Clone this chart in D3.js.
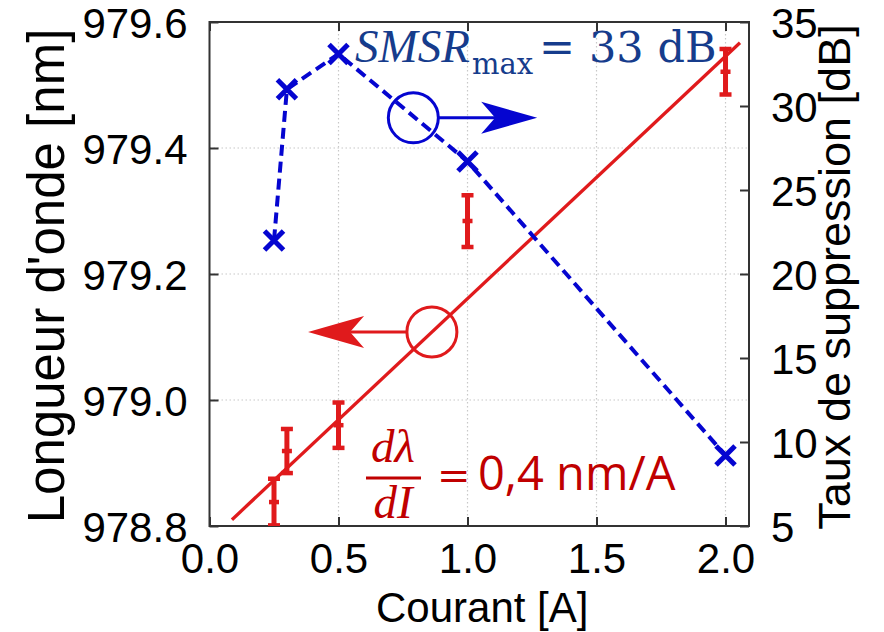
<!DOCTYPE html>
<html><head><meta charset="utf-8">
<script src="https://cdn.jsdelivr.net/npm/d3@7"></script>
<style>body{margin:0;background:#fff}svg{display:block}</style>
</head><body>
<svg id="c" width="884" height="632"></svg>
<script>
// ---- data ----
const currentTicks = [0, 0.5, 1.0, 1.5, 2.0];
const wavelengthTicks = [978.8, 979.0, 979.2, 979.4, 979.6];
const smsrTicks = [5, 10, 15, 20, 25, 30, 35];
const smsrCurrent = [0.25, 0.3, 0.5, 1.0, 2.0];
const smsrValues = [22.0, 31.0, 33.1, 26.7, 9.2];
const wlCurrent = [0.25, 0.3, 0.5, 1.0, 2.0];
const wlValues = [978.838, 978.919, 978.960, 979.284, 979.521];
const wlError = [0.037, 0.035, 0.036, 0.041, 0.036];
const fitCurrent = [0.087, 2.056];
const fitValues = [978.81, 979.567];
const xLabel = "Courant [A]";
const yLeftLabel = "Longueur d'onde [nm]";
const yRightLabel = "Taux de suppression [dB]";

const svg = d3.select("#c");
const L = 209.5, R = 749, T = 22, B = 526;
const x = d3.scaleLinear().domain([0, 2.091]).range([L, R]);
const yL = d3.scaleLinear().domain([978.8, 979.6]).range([B, T]);
const yR = d3.scaleLinear().domain([5, 35]).range([B, T]);

const blue = "#0505d0", red = "#e01a1c";
const tickFont = "'Liberation Sans', Arial, sans-serif";

// grid
const g = svg.append("g");
g.selectAll(".gx").data(currentTicks.slice(1)).join("line")
  .attr("x1", d => x(d)).attr("x2", d => x(d)).attr("y1", T).attr("y2", B)
  .attr("stroke", "#c8c8c8").attr("stroke-width", 1.2).attr("stroke-dasharray", "1.5,2.5");
g.selectAll(".gy").data(wavelengthTicks.slice(1, -1)).join("line")
  .attr("x1", L).attr("x2", R).attr("y1", d => yL(d)).attr("y2", d => yL(d))
  .attr("stroke", "#c8c8c8").attr("stroke-width", 1.2).attr("stroke-dasharray", "1.5,2.5");

// axes (inward ticks)
const axB = svg.append("g").attr("transform", `translate(0,${B})`)
  .call(d3.axisBottom(x).tickValues(currentTicks).tickFormat(d3.format(".1f")).tickSizeInner(-9).tickSizeOuter(0).tickPadding(28));
const axT = svg.append("g").attr("transform", `translate(0,${T})`)
  .call(d3.axisTop(x).tickValues(currentTicks).tickFormat("").tickSizeInner(-9).tickSizeOuter(0));
const axL = svg.append("g").attr("transform", `translate(${L},0)`)
  .call(d3.axisLeft(yL).tickValues(wavelengthTicks).tickFormat(d3.format(".1f")).tickSizeInner(-9).tickSizeOuter(0).tickPadding(22));
const axR = svg.append("g").attr("transform", `translate(${R},0)`)
  .call(d3.axisRight(yR).tickValues(smsrTicks).tickFormat(d3.format("d")).tickSizeInner(-9).tickSizeOuter(0).tickPadding(22));
[axB, axT, axL, axR].forEach(a => {
  a.select(".domain").remove();
  a.selectAll(".tick line").attr("stroke", "#333").attr("stroke-width", 2);
  a.selectAll("text").attr("font-family", tickFont).attr("font-size", 42).attr("fill", "#000");
});
axB.selectAll("text").attr("dy", "0.45em");
axL.selectAll("text").attr("dy", "0.36em");
axR.selectAll("text").attr("dy", "0.36em");

// frame
svg.append("rect").attr("x", L).attr("y", T).attr("width", R - L).attr("height", B - T)
  .attr("fill", "none").attr("stroke", "#333").attr("stroke-width", 2);

// axis titles
svg.append("text").attr("x", (L + R) / 2 + 3).attr("y", 622).attr("text-anchor", "middle")
  .attr("font-family", tickFont).attr("font-size", 42).text(xLabel);
svg.append("text").attr("transform", `translate(64,${(T + B) / 2 + 2}) rotate(-90)`).attr("text-anchor", "middle")
  .attr("font-family", tickFont).attr("font-size", 51).text(yLeftLabel);
svg.append("text").attr("transform", `translate(850,${(T + B) / 2 + 3}) rotate(-90)`).attr("text-anchor", "middle")
  .attr("font-family", tickFont).attr("font-size", 45).text(yRightLabel);

// clip for data
svg.append("clipPath").attr("id", "clip").append("rect").attr("x", L).attr("y", T - 10).attr("width", R - L).attr("height", B - T + 10);
const plot = svg.append("g").attr("clip-path", "url(#clip)");

// red fit line
const fit = fitCurrent.map((c, i) => [c, fitValues[i]]);
plot.append("path").datum(fit)
  .attr("d", d3.line().x(d => x(d[0])).y(d => yL(d[1])))
  .attr("stroke", red).attr("stroke-width", 3.3).attr("fill", "none");

// red error bars
const wl = wlCurrent.map((c, i) => ({c, v: wlValues[i], e: wlError[i]}));
const eb = plot.selectAll(".eb").data(wl).join("g");
eb.append("line").attr("x1", d => x(d.c)).attr("x2", d => x(d.c))
  .attr("y1", d => yL(d.v - d.e)).attr("y2", d => yL(d.v + d.e))
  .attr("stroke", red).attr("stroke-width", 5);
eb.append("line").attr("x1", d => x(d.c) - 6).attr("x2", d => x(d.c) + 6)
  .attr("y1", d => yL(d.v + d.e)).attr("y2", d => yL(d.v + d.e))
  .attr("stroke", red).attr("stroke-width", 4.5);
eb.append("line").attr("x1", d => x(d.c) - 6).attr("x2", d => x(d.c) + 6)
  .attr("y1", d => yL(d.v - d.e)).attr("y2", d => yL(d.v - d.e))
  .attr("stroke", red).attr("stroke-width", 4.5);
eb.append("line").attr("x1", d => x(d.c) - 5).attr("x2", d => x(d.c) + 5)
  .attr("y1", d => yL(d.v)).attr("y2", d => yL(d.v))
  .attr("stroke", red).attr("stroke-width", 4.5);

// blue SMSR dashed line + x markers
const sm = smsrCurrent.map((c, i) => [c, smsrValues[i]]);
svg.append("path").datum(sm)
  .attr("d", d3.line().x(d => x(d[0])).y(d => yR(d[1])))
  .attr("stroke", blue).attr("stroke-width", 4).attr("stroke-dasharray", "11,6").attr("fill", "none");
const s = 9.5;
svg.selectAll(".mk").data(sm).join("path")
  .attr("d", d => { const px = x(d[0]), py = yR(d[1]);
    return `M${px - s},${py - s}L${px + s},${py + s}M${px - s},${py + s}L${px + s},${py - s}`; })
  .attr("stroke", blue).attr("stroke-width", 5).attr("fill", "none");

// annotation: blue circle + arrow to the right axis
const bc = {x: 0.79, y: 29.3, tip: 1.27};
const bcx = x(bc.x), bcy = yR(bc.y);
svg.append("circle").attr("cx", bcx).attr("cy", bcy).attr("r", 25)
  .attr("fill", "none").attr("stroke", blue).attr("stroke-width", 3);
const btx = x(bc.tip);
svg.append("line").attr("x1", bcx + 25).attr("x2", btx - 42).attr("y1", bcy).attr("y2", bcy)
  .attr("stroke", blue).attr("stroke-width", 3);
svg.append("path").attr("d", `M${btx},${bcy}L${btx - 56},${bcy - 16}L${btx - 42},${bcy}L${btx - 56},${bcy + 16}Z`).attr("fill", blue);

// annotation: red circle + arrow to the left axis
const rc = {x: 0.862, y: 979.108, tip: 0.382};
const rcx = x(rc.x), rcy = yL(rc.y);
svg.append("circle").attr("cx", rcx).attr("cy", rcy).attr("r", 25)
  .attr("fill", "none").attr("stroke", red).attr("stroke-width", 3);
const rtx = x(rc.tip);
svg.append("line").attr("x1", rcx - 25).attr("x2", rtx + 42).attr("y1", rcy).attr("y2", rcy)
  .attr("stroke", red).attr("stroke-width", 3);
svg.append("path").attr("d", `M${rtx},${rcy}L${rtx + 56},${rcy - 16}L${rtx + 42},${rcy}L${rtx + 56},${rcy + 16}Z`).attr("fill", red);

// text annotations
const serif = "'Liberation Serif', 'DejaVu Serif', serif";
const serif2 = "'DejaVu Serif', 'Liberation Serif', serif";
const navy = "#163c8c";
svg.append("text").attr("x", 355).attr("y", 62).attr("font-family", serif).attr("fill", navy)
  .attr("font-size", 47).attr("font-style", "italic").text("SMSR");
svg.append("text").attr("x", 472).attr("y", 74).attr("font-family", serif2).attr("fill", navy)
  .attr("font-size", 29).text("max");
svg.append("text").attr("x", 539).attr("y", 62).attr("font-family", serif2).attr("fill", navy)
  .attr("font-size", 43).text("=");
svg.append("text").attr("x", 589).attr("y", 62).attr("font-family", serif2).attr("fill", navy)
  .attr("font-size", 43).text("33 dB");

const dark = "#c00000";
svg.append("text").attr("x", 393).attr("y", 462).attr("text-anchor", "middle").attr("font-family", serif)
  .attr("font-style", "italic").attr("font-size", 47).attr("fill", dark).text("dλ");
svg.append("line").attr("x1", 366).attr("x2", 421).attr("y1", 478).attr("y2", 478).attr("stroke", dark).attr("stroke-width", 3);
svg.append("text").attr("x", 393).attr("y", 518).attr("text-anchor", "middle").attr("font-family", serif)
  .attr("font-style", "italic").attr("font-size", 47).attr("fill", dark).text("dI");
svg.append("text").attr("x", 437).attr("y", 489).attr("font-family", serif2).attr("font-size", 40).attr("fill", dark).text("=");
svg.append("text").attr("x", 478).attr("y", 490).attr("font-family", "'Open Sans', sans-serif").attr("font-size", 47).attr("fill", dark).text("0,4 nm/A");
</script>
</body></html>
